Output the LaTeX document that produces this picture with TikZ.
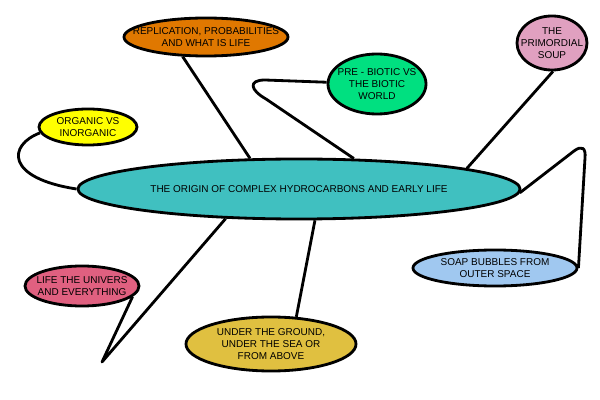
\documentclass[tikz,border=0pt]{standalone}
\usepackage{fontspec}
\setmainfont{Liberation Sans}
\usepackage{tikz}
\usetikzlibrary{shapes.geometric}

\definecolor{hubteal}{HTML}{40C0C0}
\definecolor{replorange}{HTML}{E07800}
\definecolor{orgyellow}{HTML}{FFFF00}
\definecolor{biogreen}{HTML}{00E080}
\definecolor{souppink}{HTML}{E0A0C0}
\definecolor{liferose}{HTML}{E06080}
\definecolor{groundgold}{HTML}{E0C040}
\definecolor{bubbleblue}{HTML}{A0C8F0}

\begin{document}
\begin{tikzpicture}[
        x=0.025cm, y=-0.025cm,
        every node/.style={font=\fontsize{7.1}{8.6}\selectfont},
        every path/.style={line width=2pt, line join=round},
        topic/.style={draw, ellipse, line width=2pt, inner xsep=-2cm, inner ysep=-1cm, align=center}
    ]

    \useasboundingbox (0,0) rectangle (600,400);

    % Nodes
    \node[topic, fill=hubteal, minimum width=11.05cm, minimum height=1.5cm] (hub) at (299,189)
        {THE ORIGIN OF COMPLEX HYDROCARBONS AND EARLY LIFE};
    \node[topic, fill=replorange, minimum width=4.1cm, minimum height=0.95cm] (repl) at (206,37)
        {REPLICATION, PROBABILITIES \\ AND WHAT IS LIFE};
    \node[topic, fill=orgyellow, minimum width=2.45cm, minimum height=0.9cm] (organic) at (88,127)
        {ORGANIC VS \\ INORGANIC};
    \node[topic, fill=biogreen, minimum width=2.45cm, minimum height=1.5cm] (prebiotic) at (377,84)
        {PRE - BIOTIC VS \\ THE BIOTIC \\ WORLD};
    \node[topic, fill=souppink, minimum width=1.75cm, minimum height=1.35cm] (soup) at (552,43)
        {THE \\ PRIMORDIAL \\ SOUP};
    \node[topic, fill=liferose, minimum width=2.85cm, minimum height=1cm] (life) at (82,286)
        {LIFE THE UNIVERS \\ AND EVERYTHING};
    \node[topic, fill=groundgold, minimum width=4.25cm, minimum height=1.35cm] (ground) at (271,344)
        {UNDER THE GROUND, \\ UNDER THE SEA OR \\ FROM ABOVE};
    \node[topic, fill=bubbleblue, minimum width=4.1cm, minimum height=0.9cm] (bubbles) at (495,268)
        {SOAP BUBBLES FROM \\ OUTER SPACE};

    % Connectors
    \draw (repl.220) -- (hub.148);
    \draw (organic.187) .. controls (8,145) and (5,178) .. (hub.180);
    \draw (prebiotic.178) -- (265,80) .. controls (248,80) and (250,90) .. (266,99) -- (hub.29);
    \draw (soup.272) -- (hub.7);
    \draw (hub.-1) -- (574,151) .. controls (582,145) and (586,148) .. (585,158) -- (bubbles.east);
    \draw (hub.-63) -- (ground.47);
    \draw (hub.202) -- (102,362) -- (life.-12);

\end{tikzpicture}
\end{document}
